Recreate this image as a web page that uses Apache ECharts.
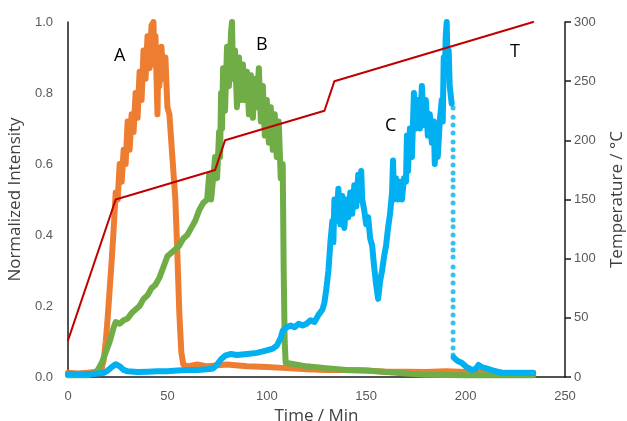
<!DOCTYPE html>
<html>
<head>
<meta charset="utf-8">
<script src="https://cdn.jsdelivr.net/npm/echarts@6/dist/echarts.min.js"></script>
<style>html,body{margin:0;padding:0;background:#fff}#c{width:627px;height:421px}</style>
</head>
<body>
<div id="c"></div>
<script>
// Series A (orange)
const aTime = [0,5,10,15,17,18,19,20,21,22,23,24,25,26,27,28,29,30,31,32,33,34,35,36,37,38,39,40,41,42,43,43.5,44,45,45.5,46,47,48,49,50,51,52,53,54,55,56,57,58,60,65,70,80,90,100,110,120,130,140,150,160,170,180,190,200,210,220,234];
const aValue = [0.012,0.01,0.012,0.015,0.025,0.05,0.1,0.17,0.25,0.33,0.42,0.52,0.5,0.6,0.55,0.64,0.6,0.72,0.64,0.74,0.69,0.8,0.73,0.86,0.78,0.92,0.84,0.96,0.87,0.99,1.0,0.88,0.96,0.74,0.92,0.82,0.93,0.84,0.9,0.76,0.74,0.66,0.58,0.5,0.35,0.18,0.07,0.035,0.03,0.035,0.03,0.035,0.03,0.028,0.025,0.022,0.02,0.02,0.018,0.015,0.015,0.014,0.016,0.014,0.013,0.012,0.012];
// Series B (green)
const bTime = [0,10,13,15,17,19,21,23,24,26,28,30,32,34,36,38,40,42,44,46,48,50,52,54,56,58,60,62,64,66,68,70,71,72,73,74,75,76,76.5,77,77.5,78,79,80,81,82,82.5,83,84,85,86,87,88,89,90,91,92,93,94,95,96,97,98,99,100,101,102,103,104,105,106,107,108,108.5,109,109.5,110,120,130,140,150,160,170,180,200,234];
const bValue = [0.005,0.005,0.01,0.02,0.04,0.07,0.1,0.14,0.155,0.15,0.16,0.165,0.18,0.19,0.2,0.22,0.23,0.25,0.26,0.28,0.31,0.34,0.35,0.36,0.37,0.39,0.4,0.42,0.44,0.47,0.49,0.5,0.57,0.5,0.56,0.62,0.56,0.69,0.62,0.8,0.7,0.87,0.75,0.93,0.82,0.97,1.0,0.84,0.92,0.76,0.9,0.78,0.88,0.78,0.86,0.74,0.85,0.73,0.84,0.76,0.87,0.72,0.82,0.68,0.78,0.66,0.76,0.64,0.74,0.62,0.72,0.56,0.6,0.3,0.1,0.04,0.035,0.03,0.025,0.02,0.018,0.014,0.01,0.006,0.005,0.005];
// Series C (blue); '-' marks the gap where the fast drop is sampled as separate dots
const cTime = [0,10,15,18,20,22,24,25,26,28,30,35,40,45,50,55,60,65,70,73,75,77,79,82,85,90,95,98,100,103,105,107,108,110,112,114,116,118,120,122,124,126,128,129,130,131,132,133,133.5,134,135,136,137,138,139,140,141,142,143,144,145,146,147,147.5,148,149,150,151,152,153,154,155,156,157,158,159,160,161,162,163,163.5,164,165,166,167,168,169,170,170.5,171,172,173,174,175,176,177,178,179,180,181,182,183,184,184.5,185,186,187,188,188.5,189,189.5,190,190.5,191,191.5,192,193,193.5,194,196,198,200,203,205,206.5,208,210,214,218,225,234];
const cValue = [0.008,0.008,0.01,0.012,0.018,0.028,0.036,0.038,0.03,0.02,0.016,0.014,0.015,0.016,0.016,0.018,0.02,0.02,0.022,0.024,0.035,0.05,0.06,0.065,0.062,0.065,0.068,0.072,0.075,0.08,0.088,0.11,0.13,0.14,0.145,0.14,0.15,0.145,0.15,0.16,0.155,0.175,0.19,0.21,0.25,0.3,0.38,0.44,0.38,0.5,0.44,0.53,0.43,0.51,0.42,0.5,0.45,0.52,0.46,0.54,0.48,0.57,0.5,0.58,0.5,0.47,0.43,0.45,0.39,0.37,0.31,0.26,0.22,0.27,0.3,0.34,0.37,0.42,0.46,0.52,0.61,0.5,0.56,0.5,0.55,0.5,0.56,0.55,0.68,0.58,0.7,0.62,0.8,0.7,0.78,0.7,0.82,0.71,0.78,0.68,0.74,0.66,0.72,0.6,0.7,0.62,0.72,0.78,0.72,0.9,0.85,0.96,1.0,0.86,0.92,0.82,0.77,'-',0.055,0.045,0.04,0.03,0.02,0.022,0.034,0.028,0.025,0.018,0.012,0.011,0.011];
const cDropTime = 193.7;
const cDropValue = [0.758,0.732,0.71,0.687,0.662,0.64,0.62,0.597,0.575,0.555,0.535,0.513,0.49,0.465,0.442,0.423,0.4,0.377,0.358,0.338,0.31,0.287,0.265,0.24,0.217,0.197,0.175,0.152,0.127,0.104,0.082,0.062];
// Temperature (right axis, °C)
const tTime = [0,24,74,79,129,134,234];
const tValue = [31,150,175,200,225,250,300];

const zip = (t, v) => t.map((x, i) => [x, v[i]]);

const chart = echarts.init(document.getElementById('c'), null, {renderer: 'canvas'});
const lbl = {color: '#595959', fontSize: 13, fontFamily: 'Liberation Sans'};
const nameStyle = {color: '#404040', fontSize: 17, fontFamily: 'Open Sans'};
function line(name, data, color, w, y) {
  return {name, type: 'line', data, yAxisIndex: y, showSymbol: false, symbol: 'none', connectNulls: false,
    lineStyle: {color, width: w, join: 'round', cap: 'round'}, silent: true, animation: false};
}
chart.setOption({
  animation: false,
  grid: {left: 68, right: 62, top: 22, bottom: 44, containLabel: false, outerBoundsMode: 'none'},
  xAxis: {type: 'value', min: 0, max: 250, interval: 50,
    name: 'Time / Min', nameLocation: 'middle', nameGap: 27, nameTextStyle: nameStyle,
    axisLine: {lineStyle: {color: '#1a1a1a', width: 1.5}}, axisTick: {show: false},
    splitLine: {show: false}, axisLabel: Object.assign({margin: 13}, lbl)},
  yAxis: [
    {type: 'value', min: 0, max: 1, interval: 0.2, position: 'left',
     name: 'Normalized Intensity', nameLocation: 'middle', nameGap: 36, nameRotate: 90, nameTextStyle: nameStyle,
     axisLine: {show: true, lineStyle: {color: '#1a1a1a', width: 1.5}}, axisTick: {show: false},
     splitLine: {show: false}, axisLabel: Object.assign({margin: 15, formatter: v => v.toFixed(1)}, lbl)},
    {type: 'value', min: 0, max: 300, interval: 50, position: 'right',
     name: 'Temperature / °C', nameLocation: 'middle', nameGap: 44, nameRotate: 90, nameTextStyle: nameStyle,
     axisLine: {show: true, lineStyle: {color: '#1a1a1a', width: 1.5}},
     axisTick: {show: true, inside: false, length: 6, lineStyle: {color: '#1a1a1a', width: 1.5}},
     splitLine: {show: false}, axisLabel: Object.assign({margin: 9}, lbl)}
  ],
  series: [
    line('A', zip(aTime, aValue), '#ED7D31', 6, 0),
    line('B', zip(bTime, bValue), '#70AD47', 6, 0),
    line('C', zip(cTime, cValue), '#00B0F0', 6, 0),
    {name: 'C drop', type: 'scatter', data: cDropValue.map(v => [cDropTime, v]), symbolSize: 5,
     itemStyle: {color: '#00B0F0'}, silent: true, animation: false},
    line('T', zip(tTime, tValue), '#C00000', 2, 1)
  ],
  graphic: [
    {type: 'text', left: 114, top: 47, style: {text: 'A', fontSize: 18, fill: '#000', fontFamily: 'Open Sans'}},
    {type: 'text', left: 256, top: 36, style: {text: 'B', fontSize: 18, fill: '#000', fontFamily: 'Open Sans'}},
    {type: 'text', left: 385, top: 117, style: {text: 'C', fontSize: 18, fill: '#000', fontFamily: 'Open Sans'}},
    {type: 'text', left: 510, top: 43, style: {text: 'T', fontSize: 18, fill: '#000', fontFamily: 'Open Sans'}}
  ]
});
</script>
</body>
</html>
